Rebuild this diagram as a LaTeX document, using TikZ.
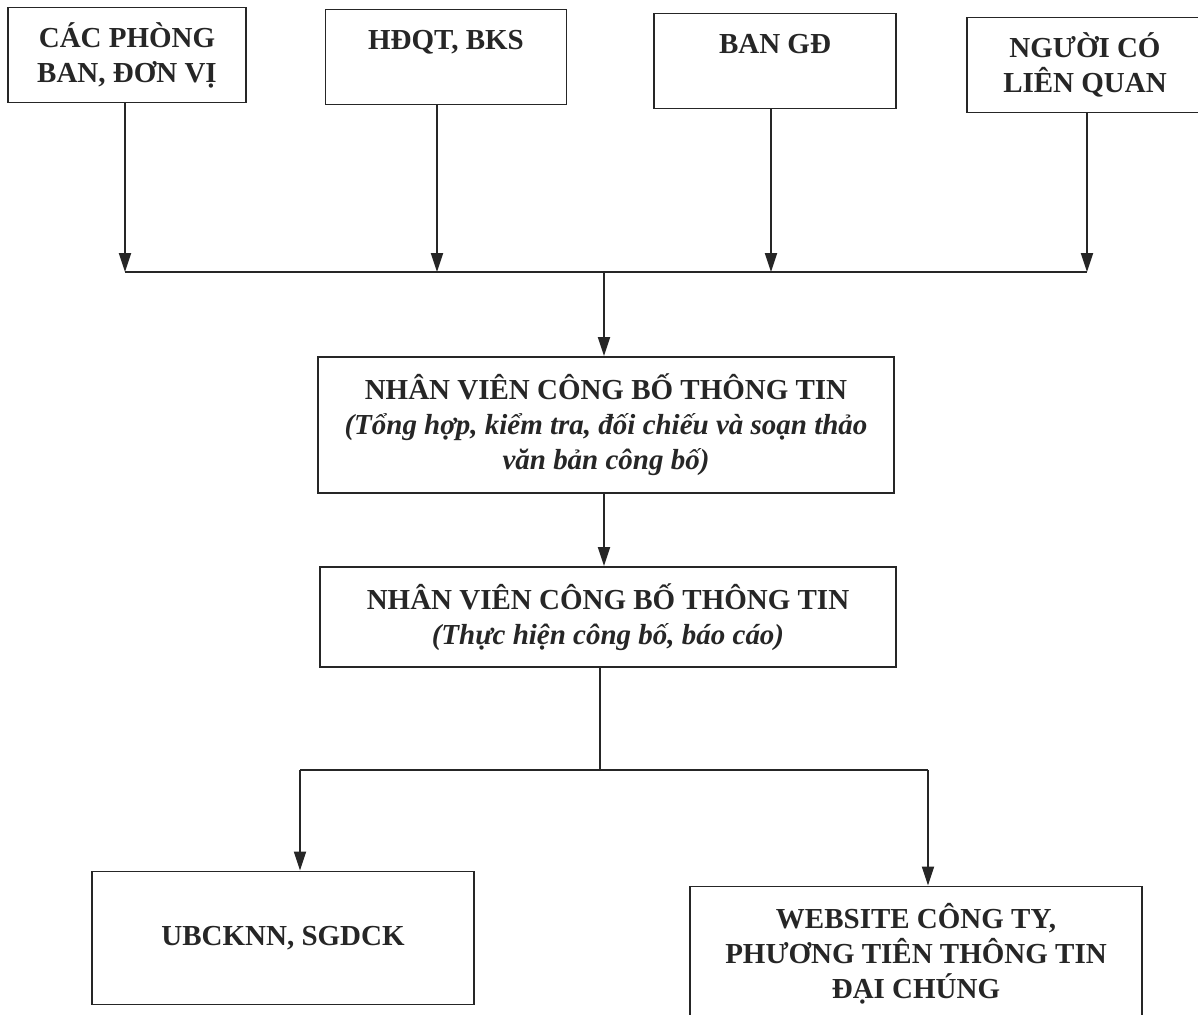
\documentclass[tikz,border=0pt]{standalone}
\usepackage{fontspec}
\setmainfont{Liberation Serif}
\usetikzlibrary{positioning,arrows.meta}

\begin{document}
\begin{tikzpicture}[
    x=0.02cm,y=-0.02cm,
    box/.style={draw=black!85,line width=1.1pt,align=center,text=black!85,
      font=\fontsize{16.5}{20}\selectfont\bfseries,inner sep=2pt},
    arrow/.style={-{Triangle[length=3.8mm,width=2.4mm]},line width=1.1pt,draw=black!85},
    link/.style={line width=1.1pt,draw=black!85},
]
\useasboundingbox (0,0) rectangle (1198,1015);
% Sources (top row)
\node[box,minimum width=4.76cm,minimum height=1.9cm] (phong) at (127,55) {CÁC PHÒNG\\BAN, ĐƠN VỊ};
\node[box,minimum width=4.82cm,minimum height=1.9cm] (hdqt)  at (446,57) {HĐQT, BKS\\~};
\node[box,minimum width=4.84cm,minimum height=1.9cm] (bangd) at (775,61) {BAN GĐ\\~};
\node[box,minimum width=4.72cm,minimum height=1.9cm] (nguoi) at (1085,65) {NGƯỜI CÓ\\LIÊN QUAN};
% Staff boxes
\node[box,minimum width=11.54cm,minimum height=2.72cm] (nvtong) at (606,425)
  {NHÂN VIÊN CÔNG BỐ THÔNG TIN\\\itshape(Tổng hợp, kiểm tra, đối chiếu và soạn thảo\\\itshape văn bản công bố)};
\node[box,minimum width=11.52cm,minimum height=2.0cm] (nvcb) at (608,617)
  {NHÂN VIÊN CÔNG BỐ THÔNG TIN\\\itshape(Thực hiện công bố, báo cáo)};
% Receivers
\node[box,minimum width=7.66cm,minimum height=2.66cm] (ubck) at (283,938) {UBCKNN, SGDCK};
\node[box,minimum width=9.04cm,minimum height=2.7cm]  (web)  at (916,954)
  {WEBSITE CÔNG TY,\\PHƯƠNG TIÊN THÔNG TIN\\ĐẠI CHÚNG};

% Collecting bus
\coordinate (busL) at (125,272);
\coordinate (busR) at (1087,272);
\coordinate (busM) at (604,272);
\draw[arrow] ([xshift=-0.04cm]phong.south) -- ([xshift=-0.04cm]phong.south |- busL);
\draw[arrow] ([xshift=-0.18cm]hdqt.south)  -- ([xshift=-0.18cm]hdqt.south |- busL);
\draw[arrow] ([xshift=-0.08cm]bangd.south) -- ([xshift=-0.08cm]bangd.south |- busL);
\draw[arrow] ([xshift=0.04cm]nguoi.south) -- ([xshift=0.04cm]nguoi.south |- busR);
\draw[link] (busL) -- (busR);
\draw[arrow] (busM) -- (busM |- nvtong.north);
\draw[arrow] (nvtong.south -| busM) -- (busM |- nvcb.north);

% Split to receivers
\coordinate (splitM) at (600,770);
\coordinate (splitL) at (300,770);
\coordinate (splitR) at (928,770);
\draw[link] (nvcb.south -| splitM) -- (splitM);
\draw[link] (splitL) -- (splitR);
\draw[arrow] (splitL) -- (splitL |- ubck.north);
\draw[arrow] (splitR) -- (splitR |- web.north);
\end{tikzpicture}
\end{document}
